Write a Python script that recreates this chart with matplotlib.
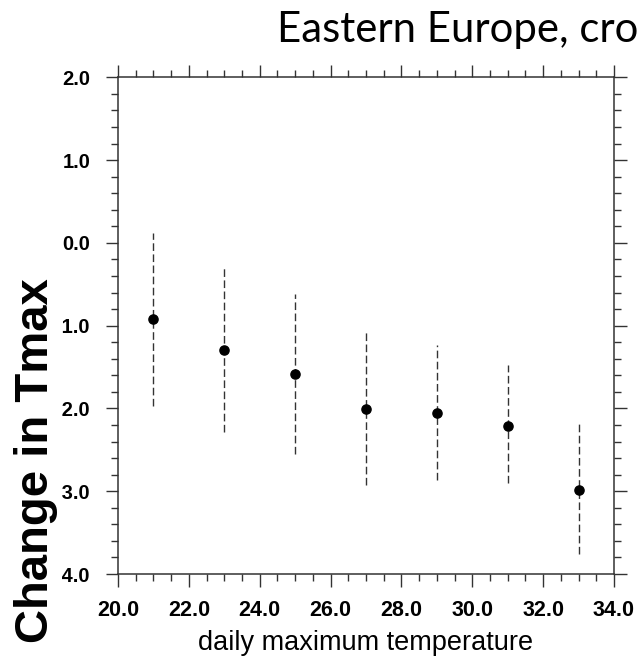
import matplotlib
matplotlib.use("Agg")
import matplotlib.pyplot as plt
from matplotlib.patches import Rectangle
from matplotlib.ticker import MultipleLocator, FormatStrFormatter

# values
tmax_bins = [21, 23, 25, 27, 29, 31, 33]
change_mean = [-0.92, -1.29, -1.58, -2.01, -2.05, -2.21, -2.99]
change_high = [0.12, -0.29, -0.62, -1.06, -1.23, -1.48, -2.19]
change_low = [-1.97, -2.29, -2.55, -2.92, -2.86, -2.90, -3.76]

title = "Eastern Europe, cro"
xlabel = "daily maximum temperature"
ylabel = "Change in Tmax"

W, H = 642, 664
fig = plt.figure(figsize=(W / 100, H / 100), dpi=100)
ax = fig.add_axes([118 / W, (H - 574) / H, 496 / W, 496.7 / H])

# dashed vertical range bars with a dot at the mean
ax.vlines(tmax_bins, change_low, change_high, colors="#333333",
          linestyles=(0, (5.5, 2.5)), linewidth=1.0, zorder=2)
ax.plot(tmax_bins, change_mean, "o", color="black", markersize=6.6, zorder=3)

ax.set_xlim(20, 34)
ax.set_ylim(-4, 2)
ax.xaxis.set_major_locator(MultipleLocator(2))
ax.xaxis.set_minor_locator(MultipleLocator(0.5))
ax.yaxis.set_major_locator(MultipleLocator(1))
ax.yaxis.set_minor_locator(MultipleLocator(0.2))
ax.xaxis.set_major_formatter(FormatStrFormatter("%.1f"))
ax.yaxis.set_major_formatter(FormatStrFormatter("%.1f"))

for sp in ax.spines.values():
    sp.set_linewidth(1.1)
    sp.set_color("#333333")
ax.tick_params(which="both", direction="out", top=True, right=True,
               color="#333333", width=1.0)
ax.tick_params(which="major", length=9)
ax.tick_params(which="minor", length=4.8)
ax.tick_params(axis="x", which="major", pad=9.5)
ax.tick_params(axis="y", which="major", pad=11)
for lab in ax.get_xticklabels():
    lab.set_fontfamily("Liberation Sans")
    lab.set_fontweight("bold")
    lab.set_fontsize(15.5)
for lab in ax.get_yticklabels():
    lab.set_fontfamily("Liberation Sans")
    lab.set_fontweight("bold")
    lab.set_fontsize(14.5)

ax.set_xlabel(xlabel, fontfamily="Liberation Sans", fontsize=19.5)
ax.xaxis.set_label_coords(0.5, -0.112)

# white box with the big y label over the left edge (hides the minus signs)
fig.add_artist(Rectangle((0, 0), 61.5 / W, (H - 268) / H, transform=fig.transFigure,
                         facecolor="white", edgecolor="none", zorder=5))
fig.text(36 / W, (H - 461) / H, ylabel, rotation=90, ha="center", va="center",
         fontfamily="Liberation Sans", fontweight="bold", fontsize=34, zorder=6)

fig.text(277 / W, (H - 41.7) / H, title, ha="left", va="baseline",
         fontfamily="Lato", fontsize=30.2)

fig.savefig("out.png", dpi=100)
